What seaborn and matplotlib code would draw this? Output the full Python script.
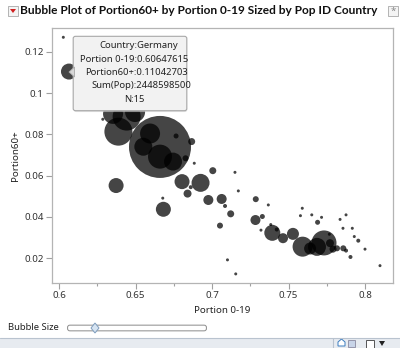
import matplotlib
matplotlib.use("Agg")
import matplotlib.pyplot as plt
import seaborn as sns
import pandas as pd
from matplotlib.patches import Rectangle, FancyBboxPatch, Polygon
from matplotlib.ticker import FixedLocator

# ---------------- data ----------------
portion_0_19 = [0.6028, 0.6065, 0.6286, 0.6388, 0.6442, 0.6353, 0.6497, 0.6660, 0.6595, 0.6551,
                0.6660, 0.6745, 0.6765, 0.6867, 0.6827, 0.6884, 0.6804, 0.6925, 0.6840, 0.6861,
                0.7005, 0.7150, 0.7172, 0.6976, 0.7063, 0.7085, 0.7122, 0.7052, 0.6373, 0.6682,
                0.6678, 0.7286, 0.7368, 0.7284, 0.7329, 0.7384, 0.7320, 0.7394, 0.7423, 0.7464,
                0.7529, 0.7101, 0.7155, 0.7592, 0.7686, 0.7732, 0.7641, 0.7771, 0.7791, 0.7858,
                0.7876, 0.7905, 0.8098, 0.8000, 0.7956, 0.7930, 0.7917, 0.7856, 0.7837, 0.7876,
                0.7716, 0.7690, 0.7652, 0.7578, 0.7590, 0.7767, 0.7817]
portion_60 = [0.1270, 0.1104, 0.0873, 0.0813, 0.0886, 0.0899, 0.0908, 0.0739, 0.0804, 0.0740,
              0.0692, 0.0668, 0.0792, 0.0765, 0.0684, 0.0660, 0.0571, 0.0565, 0.0513, 0.0544,
              0.0624, 0.0616, 0.0526, 0.0482, 0.0487, 0.0453, 0.0415, 0.0358, 0.0552, 0.0437,
              0.0491, 0.0486, 0.0458, 0.0385, 0.0402, 0.0363, 0.0336, 0.0323, 0.0339, 0.0297,
              0.0318, 0.0192, 0.0124, 0.0256, 0.0255, 0.0274, 0.0247, 0.0273, 0.0244, 0.0248,
              0.0237, 0.0206, 0.0164, 0.0244, 0.0285, 0.0305, 0.0345, 0.0345, 0.0388, 0.0410,
              0.0398, 0.0374, 0.0410, 0.0406, 0.0442, 0.0316, 0.0248]
pop = [86, 2449, 86, 7499, 7499, 3826, 3826, 36770, 3826, 3099,
       5510, 3099, 239, 469, 344, 86, 2152, 3099, 612, 153,
       469, 86, 86, 957, 957, 153, 469, 344, 2152, 2152,
       86, 344, 86, 957, 239, 86, 86, 2449, 153, 957,
       1377, 86, 86, 3826, 3099, 5978, 1377, 612, 469, 344,
       153, 153, 86, 86, 153, 86, 86, 86, 86, 86,
       86, 239, 86, 86, 86, 86, 344]

x_ticks = [0.6, 0.65, 0.7, 0.75, 0.8]
x_tick_labels = ["0.6", "0.65", "0.7", "0.75", "0.8"]
y_ticks = [0.02, 0.04, 0.06, 0.08, 0.1, 0.12]
y_tick_labels = ["0.02", "0.04", "0.06", "0.08", "0.1", "0.12"]

title = "Bubble Plot of Portion60+ by Portion 0-19 Sized by Pop ID Country"
tooltip_lines = ["Country:Germany", "Portion 0-19:0.60647615", "Portion60+:0.11042703",
                 "Sum(Pop):2448598500", "N:15"]

# ---------------- figure ----------------
sns.set_style("white")
plt.rcParams["font.family"] = ["Noto Sans", "DejaVu Sans"]

W, H = 400, 348
fig = plt.figure(figsize=(W / 100, H / 100), dpi=100)
fig.patch.set_facecolor("white")


def fx(px):
    return px / W


def fy(py):
    return 1 - py / H


L, R, T, B = 52, 393, 28, 283
ax = fig.add_axes([fx(L), fy(B), (R - L) / W, (B - T) / H])

df = pd.DataFrame({"Portion 0-19": portion_0_19, "Portion60+": portion_60, "Pop": pop})
popmax = max(pop)
smax = 0.0542 * popmax
order = df.sort_values("Pop", ascending=False)
sns.scatterplot(data=order, x="Portion 0-19", y="Portion60+", size="Pop",
                sizes=(0, smax), size_norm=(0, popmax), color="black", alpha=0.73,
                linewidth=0, legend=False, ax=ax)

ax.set_xlim(0.5954, 0.8183)
ax.set_ylim(0.008, 0.1315)
ax.xaxis.set_major_locator(FixedLocator(x_ticks))
ax.set_xticklabels(x_tick_labels)
ax.xaxis.set_minor_locator(FixedLocator([0.625, 0.675, 0.725, 0.775]))
ax.yaxis.set_major_locator(FixedLocator(y_ticks))
ax.set_yticklabels(y_tick_labels)

for s in ax.spines.values():
    s.set_color("#b4b4b4")
    s.set_linewidth(0.9)
ax.tick_params(axis="both", which="major", direction="out", length=4, width=0.8,
               color="#a0a0a0", labelsize=7, labelcolor="#333333", pad=2,
               bottom=True, left=True)
ax.tick_params(axis="x", which="minor", direction="out", length=2.5, width=0.8,
               color="#a0a0a0", bottom=True)
ax.set_xlabel("Portion 0-19", fontsize=7, color="#222222", labelpad=4)
ax.set_ylabel("Portion60+", fontsize=7, color="#222222", labelpad=3)

# ---------------- title bar ----------------
fig.text(fx(20), fy(11), title, fontsize=8.6, fontweight="bold", color="#111111",
         ha="left", va="center", family=["Lato", "DejaVu Sans"])
fig.patches.append(Rectangle((fx(8), fy(16)), 10 / W, 10 / H, transform=fig.transFigure,
                             facecolor="#f4f4f4", edgecolor="#a8a8a8", lw=0.6))
fig.patches.append(Polygon([(fx(10), fy(9)), (fx(16), fy(9)), (fx(13), fy(13))],
                           closed=True, transform=fig.transFigure, facecolor="#d02020",
                           edgecolor="none"))
fig.patches.append(Rectangle((fx(388), fy(16)), 10 / W, 10 / H, transform=fig.transFigure,
                             facecolor="#f4f4f4", edgecolor="#a8a8a8", lw=0.6))
fig.text(fx(393), fy(11), "*", fontsize=7, color="#888888", ha="center", va="center")

# ---------------- tooltip ----------------
fig.patches.append(FancyBboxPatch((fx(75), fy(111)), (186 - 75) / W, (111 - 38) / H,
                                  boxstyle="round,pad=0.003,rounding_size=0.006",
                                  transform=fig.transFigure, facecolor="#cfcfcf",
                                  edgecolor="none", alpha=0.6))
fig.patches.append(FancyBboxPatch((fx(74), fy(110)), (186 - 74) / W, (110 - 37) / H,
                                  boxstyle="round,pad=0.002,rounding_size=0.006",
                                  transform=fig.transFigure, facecolor="#f2f2f2",
                                  edgecolor="#a8a8a8", lw=0.8))
fig.patches.append(Polygon([(fx(74.5), fy(67)), (fx(69), fy(72)), (fx(74.5), fy(77))],
                           closed=True, transform=fig.transFigure, facecolor="#d8d8d8",
                           edgecolor="#a8a8a8", lw=0.6))
line_x = [99, 80, 85, 91, 124]
line_y = [45, 59, 72.5, 86, 99.5]
for t, lx, ly in zip(tooltip_lines, line_x, line_y):
    fig.text(fx(lx), fy(ly), t, fontsize=6.8, color="#222222", ha="left", va="center")

# ---------------- slider ----------------
fig.text(fx(8), fy(328), "Bubble Size", fontsize=6.8, color="#222222", ha="left", va="center")
fig.patches.append(FancyBboxPatch((fx(68), fy(330.5)), (206 - 68) / W, 5 / H,
                                  boxstyle="round,pad=0.001,rounding_size=0.006",
                                  transform=fig.transFigure, facecolor="white",
                                  edgecolor="#8a8a8a", lw=0.7))
fig.patches.append(Polygon([(fx(95), fy(323)), (fx(99), fy(328)), (fx(95), fy(333)),
                            (fx(91), fy(328))], closed=True, transform=fig.transFigure,
                           facecolor="#d6e4f2", edgecolor="#7f9dbd", lw=0.7))

# ---------------- bottom status strip ----------------
fig.patches.append(Rectangle((0, 0), 1, (H - 337.5) / H, transform=fig.transFigure,
                             facecolor="#e7ebf0", edgecolor="none"))
fig.add_artist(plt.Line2D([0, 1], [fy(337.5), fy(337.5)], transform=fig.transFigure,
                          color="#b9c3cf", lw=0.8))
fig.add_artist(plt.Line2D([fx(333), fx(333)], [0, fy(337.5)], transform=fig.transFigure,
                          color="#b9c3cf", lw=0.8))
fig.patches.append(Polygon([(fx(338), fy(346)), (fx(338), fy(342)), (fx(341.5), fy(339)),
                            (fx(345), fy(342)), (fx(345), fy(346))], closed=True,
                           transform=fig.transFigure, facecolor="white",
                           edgecolor="#3a7cc0", lw=0.7))
fig.patches.append(Rectangle((fx(348), fy(347)), 7 / W, 7 / H, transform=fig.transFigure,
                             facecolor="#c8d4e8", edgecolor="#8a8aa0", lw=0.6))
fig.patches.append(Rectangle((fx(366), fy(348)), 8 / W, 8 / H, transform=fig.transFigure,
                             facecolor="white", edgecolor="#555555", lw=0.7))
fig.patches.append(Polygon([(fx(379), fy(341)), (fx(385), fy(341)), (fx(382), fy(346))],
                           closed=True, transform=fig.transFigure, facecolor="#222222",
                           edgecolor="none"))

fig.savefig("out.png", dpi=100, facecolor=fig.get_facecolor())
